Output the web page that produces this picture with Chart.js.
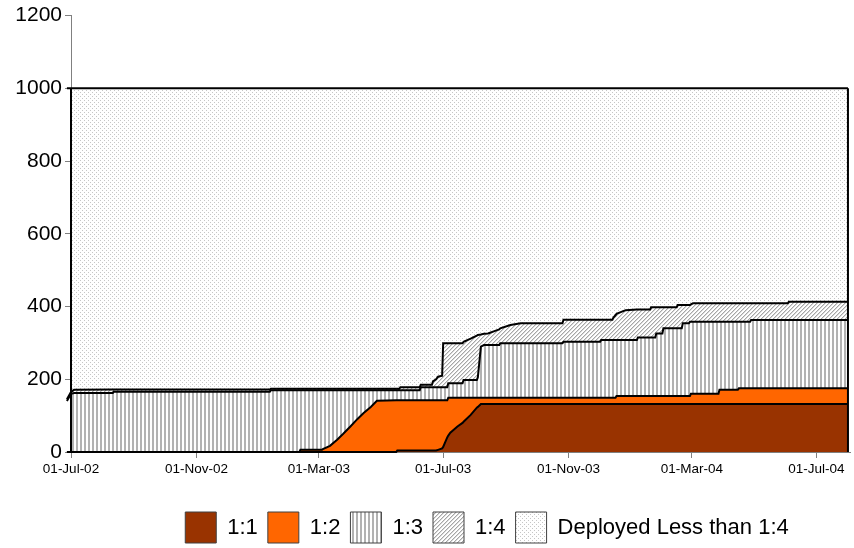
<!DOCTYPE html>
<html>
<head>
<meta charset="utf-8">
<script src="https://cdn.jsdelivr.net/npm/chart.js@4.4.1/dist/chart.umd.min.js"></script>
<style>
  html, body { margin: 0; padding: 0; background: #fff; }
  #wrap { width: 854px; height: 548px; }
</style>
</head>
<body>
<div id="wrap"><canvas id="chart" width="854" height="548"></canvas></div>
<script>
// dias desde el 01-Jul-2002
const startDate = '2002-07-01';
const days = [-4, 0, 3, 41, 42, 195, 196, 224, 225, 246, 247, 254, 261, 267, 274, 281, 287, 294, 300, 319,
  320, 322, 323, 342, 343, 354, 355, 358, 360, 364, 365, 369, 370, 372, 379, 384, 385, 392, 398, 399,
  402, 405, 409, 418, 420, 421, 431, 441, 482, 483, 519, 520, 531, 532, 534, 535, 544, 555, 556, 568,
  569, 573, 574, 580, 581, 594, 595, 599, 600, 606, 607, 608, 610, 635, 636, 654, 655, 666, 667, 703,
  704, 762];

const ratio11 = [0, 0, 0, 0, 0, 0, 0, 0, 0, 0, 0, 0, 0, 0, 0, 0, 0, 0, 0, 0,
  4, 4, 4, 4, 4, 4, 4, 4, 6, 10, 14, 40, 45, 53, 70, 80, 83, 102, 122, 124,
  132, 132, 132, 132, 132, 132, 132, 132, 132, 132, 132, 132, 132, 132, 132, 132, 132, 132, 132, 132,
  132, 132, 132, 132, 132, 132, 132, 132, 132, 132, 132, 132, 132, 132, 132, 132, 132, 132, 132, 132,
  132, 132];

const ratio12 = [0, 0, 0, 0, 0, 0, 0, 0, 6, 6, 8, 17, 34, 50, 70, 91, 107, 124, 141, 142,
  138, 138, 138, 138, 138, 138, 138, 138, 136, 132, 128, 102, 104, 96, 79, 69, 66, 47, 27, 25,
  17, 17, 17, 17, 17, 17, 17, 17, 17, 17, 17, 17, 17, 17, 17, 22, 22, 22, 22, 22,
  22, 22, 22, 22, 22, 22, 22, 22, 22, 22, 22, 28, 28, 28, 39, 39, 43, 43, 43, 43,
  43, 43];

const ratio13 = [140, 160, 162, 162, 166, 166, 170, 170, 164, 164, 162, 153, 136, 120, 100, 79, 63, 46, 29, 28,
  28, 28, 28, 28, 36, 36, 36, 36, 36, 36, 36, 36, 40, 40, 40, 40, 49, 49, 49, 56,
  141, 145, 145, 145, 145, 150, 150, 150, 150, 154, 154, 159, 159, 159, 159, 154, 154, 154, 161, 161,
  161, 161, 172, 172, 186, 186, 186, 186, 200, 200, 204, 198, 198, 198, 187, 187, 183, 183, 188, 188,
  188, 188];

const ratio14 = [5, 5, 9, 10, 6, 6, 4, 4, 4, 4, 4, 4, 4, 4, 4, 4, 4, 4, 4, 4,
  4, 4, 8, 8, 7, 7, 16, 22, 29, 32, 121, 121, 110, 110, 110, 110, 105, 114, 122, 117,
  33, 31, 32, 41, 43, 41, 50, 55, 55, 61, 61, 56, 56, 62, 68, 72, 82, 84, 77, 77,
  83, 83, 72, 72, 58, 58, 64, 64, 50, 50, 46, 48, 51, 51, 51, 51, 51, 51, 46, 46,
  50, 50];

const lessThan14 = [855, 835, 829, 828, 828, 828, 826, 826, 826, 826, 826, 826, 826, 826, 826, 826, 826, 826, 826, 826,
  826, 826, 822, 822, 815, 815, 806, 800, 793, 790, 701, 701, 701, 701, 701, 701, 697, 688, 680, 678,
  677, 675, 674, 665, 663, 660, 651, 646, 646, 636, 636, 636, 636, 630, 624, 620, 610, 608, 608, 608,
  602, 602, 602, 602, 602, 602, 596, 596, 596, 596, 596, 594, 591, 591, 591, 591, 591, 591, 591, 591,
  587, 587];

const seriesNames = ['1:1', '1:2', '1:3', '1:4', 'Deployed Less than 1:4'];
const tickDates = ['2002-07-01', '2002-11-01', '2003-03-01', '2003-07-01', '2003-11-01', '2004-03-01', '2004-07-01'];
const yTicks = [0, 200, 400, 600, 800, 1000, 1200];

const DAY = 86400000;
const months = ['Jan', 'Feb', 'Mar', 'Apr', 'May', 'Jun', 'Jul', 'Aug', 'Sep', 'Oct', 'Nov', 'Dec'];
const toDay = s => (Date.parse(s) - Date.parse(startDate)) / DAY;
function fmtDate(d) {
  const dt = new Date(Date.parse(startDate) + d * DAY);
  const dd = String(dt.getUTCDate()).padStart(2, '0');
  const yy = String(dt.getUTCFullYear() % 100).padStart(2, '0');
  return dd + '-' + months[dt.getUTCMonth()] + '-' + yy;
}

const canvas = document.getElementById('chart');
const ctx = canvas.getContext('2d');

// patrones de relleno estilo Excel
function makePattern(size, draw) {
  const c = document.createElement('canvas');
  c.width = size; c.height = size;
  const g = c.getContext('2d');
  g.fillStyle = '#ffffff';
  g.fillRect(0, 0, size, size);
  draw(g);
  return ctx.createPattern(c, 'repeat');
}
const vStripes = makePattern(4, g => {
  g.fillStyle = '#b2b2b2';
  g.fillRect(0, 0, 2, 4);
});
const diagHatch = makePattern(4, g => {
  for (let i = 0; i < 4; i++) {
    g.fillStyle = '#a6a6a6';
    g.fillRect(3 - i, i, 1, 1);
    g.fillStyle = '#dadada';
    g.fillRect((4 - i) % 4, i, 1, 1);
  }
});
const dots = makePattern(4, g => {
  g.fillStyle = '#c6c6c6';
  g.fillRect(0, 0, 1, 1);
  g.fillRect(2, 2, 1, 1);
});

const values = [ratio11, ratio12, ratio13, ratio14, lessThan14];
const fills = ['#993300', '#FF6600', vStripes, diagHatch, dots];

const datasets = values.map((vals, i) => ({
  label: seriesNames[i],
  data: days.map((d, k) => ({ x: d, y: vals[k] })),
  backgroundColor: fills[i],
  borderColor: '#000000',
  borderWidth: 2,
  pointRadius: 0,
  tension: 0,
  fill: i === 0 ? 'origin' : '-1',
  clip: { left: 5, right: 5, top: 5, bottom: 5 }
}));

// bordes verticales de las areas (inicio y fin), como en Excel
const areaEdges = {
  id: 'areaEdges',
  afterDatasetsDraw(chart) {
    const { ctx, chartArea, scales } = chart;
    const last = days.length - 1;
    const topAt = k => values.reduce((s, arr) => s + arr[k], 0);
    ctx.save();
    ctx.strokeStyle = '#000';
    ctx.lineWidth = 2;
    ctx.beginPath();
    ctx.moveTo(chartArea.left, scales.y.getPixelForValue(topAt(1)));
    ctx.lineTo(chartArea.left, scales.y.getPixelForValue(0));
    const xe = scales.x.getPixelForValue(days[last]);
    ctx.moveTo(xe, scales.y.getPixelForValue(topAt(last)));
    ctx.lineTo(xe, scales.y.getPixelForValue(0));
    ctx.stroke();
    ctx.restore();
  }
};

// la leyenda de Excel no queda centrada: la corremos a la derecha
const legendOffset = {
  id: 'legendOffset',
  afterLayout(chart) {
    const lg = chart.legend;
    if (lg) {
      lg.left += 62;
      lg.right += 62;
    }
  }
};

const fontFamily = '"Liberation Sans", Arial, sans-serif';

new Chart(ctx, {
  type: 'line',
  data: { datasets: datasets },
  plugins: [areaEdges, legendOffset],
  options: {
    responsive: false,
    animation: false,
    layout: { padding: { left: 0, right: 4, top: 15, bottom: -5 } },
    plugins: {
      tooltip: { enabled: false },
      legend: {
        position: 'bottom',
        labels: {
          boxWidth: 31,
          boxHeight: 31,
          padding: 10,
          color: '#000',
          font: { family: fontFamily, size: 22 },
          generateLabels: chart => Chart.defaults.plugins.legend.labels.generateLabels(chart)
            .map(l => Object.assign(l, { lineWidth: 1, strokeStyle: '#404040' }))
        }
      }
    },
    scales: {
      x: {
        type: 'linear',
        min: 0,
        max: 764,
        afterFit: s => { s.height = 50; },
        afterBuildTicks: s => { s.ticks = tickDates.map(t => ({ value: toDay(t) })); },
        grid: { drawOnChartArea: false, drawTicks: true, tickLength: 6, color: '#808080' },
        border: { color: '#808080' },
        ticks: {
          autoSkip: false,
          maxRotation: 0,
          padding: 3,
          color: '#000',
          font: { family: fontFamily, size: 13.5 },
          callback: v => fmtDate(v)
        }
      },
      y: {
        stacked: true,
        min: 0,
        max: 1200,
        afterFit: s => { s.width = 71; },
        afterBuildTicks: s => { s.ticks = yTicks.map(v => ({ value: v })); },
        grid: { drawOnChartArea: false, drawTicks: true, tickLength: 6, color: '#808080' },
        border: { color: '#808080' },
        ticks: {
          padding: 3,
          color: '#000',
          font: { family: fontFamily, size: 21 },
          callback: v => String(v)
        }
      }
    }
  }
});
</script>
</body>
</html>
